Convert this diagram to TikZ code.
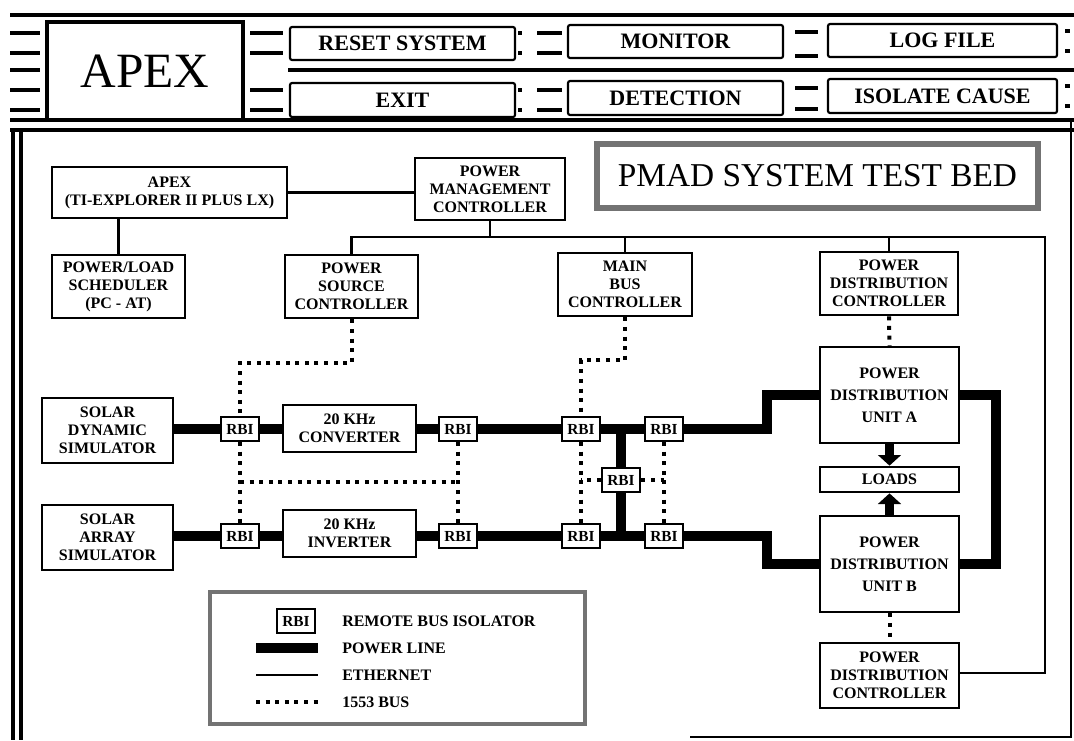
\documentclass[tikz,border=0pt]{standalone}
\usepackage{fontspec}
\setmainfont{Liberation Serif}
\usetikzlibrary{fit,arrows.meta,calc}
\begin{document}
\begin{tikzpicture}[x=0.75pt,y=-0.75pt,
  box/.style={draw, line width=2pt, fill=white, inner sep=0pt},
  bt/.style={align=center, inner sep=0pt, font=\bfseries\fontsize{12}{13.5}\selectfont},
  bbt/.style={align=center, inner sep=0pt, font=\bfseries\fontsize{12}{16.5}\selectfont},
  rbi/.style={draw, line width=1.6pt, fill=white, inner sep=0pt,
    minimum width=29pt, minimum height=18pt, font=\bfseries\fontsize{11.5}{12}\selectfont},
  btn/.style={draw, line width=1.6pt, rounded corners=1.5pt, inner sep=0pt},
  btt/.style={inner sep=0pt, font=\bfseries\fontsize{16.5}{18}\selectfont},
  pline/.style={line width=7.5pt, line join=miter},
  eth/.style={line width=2pt},
  bus/.style={line width=3pt, dash pattern=on 3pt off 4.2pt},
  frameline/.style={line width=3pt},
  bar/.style={line width=3pt},
  legtext/.style={anchor=west, inner sep=0pt, font=\bfseries\fontsize{12}{13.5}\selectfont},
  tip/.style={-{Triangle[width=17pt,length=8pt]}, line width=7pt}
]
\fill[white] (0,0) rectangle (1074,740);
\useasboundingbox (0,0) rectangle (1074,740);

% ---------------- header ----------------
\draw[frameline] (10,15) -- (1074,15);
\draw[frameline] (288,70) -- (1074,70);
\draw[frameline] (10,120) -- (1074,120);
\foreach \y in {33,53,70,90,110} \draw[bar] (10,\y) -- (40,\y);
\foreach \y in {33,53,90,110} \draw[bar] (250,\y) -- (283,\y);
\foreach \y in {33,53,90,110} {\draw[bar] (537,\y) -- (562,\y); \draw[bar] (518,\y) -- (522,\y);}
\foreach \y in {32,56,88,109} \draw[bar] (795,\y) -- (818,\y);
\foreach \y in {31,51,86,106} \draw[bar] (1065,\y) -- (1070,\y);

\node[draw, line width=3pt, fill=white, fit={(47,22) (243,120)}, inner sep=0pt,
  label={[inner sep=0pt, font=\fontsize{37}{40}\selectfont]center:APEX}] (apexlogo) {};

\node[btn, fit={(290,27) (515,60)}, label={[btt]center:RESET SYSTEM}] (reset) {};
\node[btn, fit={(568,25) (783,58)}, label={[btt]center:MONITOR}] (monitor) {};
\node[btn, fit={(828,24) (1057,57)}, label={[btt]center:LOG FILE}] (logfile) {};
\node[btn, fit={(290,83) (515,117)}, label={[btt]center:EXIT}] (exit) {};
\node[btn, fit={(568,81) (783,115)}, label={[btt]center:DETECTION}] (detect) {};
\node[btn, fit={(828,79) (1057,113)}, label={[btt]center:ISOLATE CAUSE}] (isolate) {};

% ---------------- panel frame ----------------
\draw[frameline] (10,130) -- (1074,130);
\draw[line width=3.5pt] (13,130) -- (13,740);
\draw[line width=3.5pt] (21,130) -- (21,740);
\draw[line width=1.3pt] (1071,120) -- (1071,737) -- (690,737);

\node[draw=black!55, line width=4pt, fit={(597,144) (1038,208)}, inner sep=0pt,
  label={[inner sep=0pt, font=\fontsize{25}{28}\selectfont]center:PMAD SYSTEM TEST BED}] (pmad) {};

% ---------------- nodes ----------------
\node[box, fit={(52,167) (287,218)}, label={[bt]center:{APEX\\(TI-EXPLORER II PLUS LX)}}] (apexti) {};
\node[box, fit={(415,158) (565,220)}, label={[bt]center:{POWER\\MANAGEMENT\\CONTROLLER}}] (pmc) {};
\node[box, fit={(52,255) (185,318)}, label={[bt]center:{POWER/LOAD\\SCHEDULER\\(PC - AT)}}] (pls) {};
\node[box, fit={(285,255) (418,318)}, label={[bt]center:{POWER\\SOURCE\\CONTROLLER}}] (psc) {};
\node[box, fit={(558,253) (692,316)}, label={[bt]center:{MAIN\\BUS\\CONTROLLER}}] (mbc) {};
\node[box, fit={(820,252) (958,315)}, label={[bt]center:{POWER\\DISTRIBUTION\\CONTROLLER}}] (pdc1) {};

\node[box, fit={(42,398) (173,463)}, label={[bt]center:{SOLAR\\DYNAMIC\\SIMULATOR}}] (sds) {};
\node[box, fit={(283,405) (416,452)}, label={[bt]center:{20 KHz\\CONVERTER}}] (conv) {};
\node[box, fit={(42,505) (173,570)}, label={[bt]center:{SOLAR\\ARRAY\\SIMULATOR}}] (sas) {};
\node[box, fit={(283,510) (416,557)}, label={[bt]center:{20 KHz\\INVERTER}}] (inv) {};

\node[rbi] (r1) at (240,429) {RBI};
\node[rbi] (r2) at (458,429) {RBI};
\node[rbi] (r5) at (581,429) {RBI};
\node[rbi] (r6) at (664,429) {RBI};
\node[rbi] (r3) at (240,536) {RBI};
\node[rbi] (r4) at (458,536) {RBI};
\node[rbi] (r8) at (581,536) {RBI};
\node[rbi] (r9) at (664,536) {RBI};
\node[rbi] (r7) at (621,480) {RBI};

\node[box, fit={(820,347) (959,443)}, label={[bbt]center:{POWER\\DISTRIBUTION\\UNIT A}}] (pdua) {};
\node[box, fit={(820,467) (959,492)}, label={[bt]center:LOADS}] (loads) {};
\node[box, fit={(820,516) (959,612)}, label={[bbt]center:{POWER\\DISTRIBUTION\\UNIT B}}] (pdub) {};
\node[box, fit={(820,643) (959,708)}, label={[bt]center:{POWER\\DISTRIBUTION\\CONTROLLER}}] (pdc2) {};

% ---------------- ethernet ----------------
\coordinate (ebus) at (0,237);
\coordinate (ecorner1) at (1045,237);
\coordinate (ecorner2) at (1045,673);
\draw[eth] (apexti.east) -- (apexti.east -| pmc.west);
\draw[eth] (apexti.south -| pls.north) -- (pls.north);
\draw[eth] (pmc.south) -- (pmc.south |- ebus);
\draw[eth] (psc.north) |- (ecorner1) -- (ecorner2) -- (ecorner2 -| pdc2.east);
\draw[eth] (mbc.north) -- (mbc.north |- ebus);
\draw[eth] (pdc1.north) -- (pdc1.north |- ebus);

% ---------------- 1553 bus ----------------
\coordinate (b1) at (0,363);
\coordinate (b2) at (0,482);
\coordinate (b3) at (0,360);
\draw[bus] (psc.south) -- (psc.south |- b1) -| (r1.north);
\draw[bus] (r1.south) -- (r3.north);
\draw[bus] (r2.south) -- (r4.north);
\draw[bus] (r1.south |- b2) -- (r2.south |- b2);
\draw[bus] (mbc.south) -- (mbc.south |- b3) -| (r5.north);
\draw[bus] (r5.south) -- (r8.north);
\draw[bus] (r6.south) -- (r9.north);
\draw[bus] (r7.west) -- (r7.west -| r5.south);
\draw[bus] (r7.east) -- (r7.east -| r6.south);
\draw[bus] (pdc1.south) -- (pdua.north);
\draw[bus] (pdub.south) -- (pdc2.north);

% ---------------- power lines ----------------
\coordinate (pa) at (767,395);
\coordinate (pb) at (767,564);
\coordinate (pr) at (996,0);
\draw[pline] (sds.east |- r1.west) -- (r1.west);
\draw[pline] (r1.east) -- (r1.east -| conv.west);
\draw[pline] (r2.west -| conv.east) -- (r2.west);
\draw[pline] (r2.east) -- (r5.west);
\draw[pline] (r5.east) -- (r6.west);
\draw[pline] (r6.east) -| (pa) -- (pa -| pdua.west);
\draw[pline] (sas.east |- r3.west) -- (r3.west);
\draw[pline] (r3.east) -- (r3.east -| inv.west);
\draw[pline] (r4.west -| inv.east) -- (r4.west);
\draw[pline] (r4.east) -- (r8.west);
\draw[pline] (r8.east) -- (r9.west);
\draw[pline] (r9.east) -| (pb) -- (pb -| pdub.west);
\draw[pline] (r7.north) -- (r7.north |- r5.east);
\draw[pline] (r7.south) -- (r7.south |- r8.east);
\draw[pline] (pdua.east) -| (pr |- pdub.east) -- (pdub.east);
\draw[tip] (pdua.south) -- (loads.north);
\draw[tip] (pdub.north) -- (loads.south);

% ---------------- legend ----------------
\node[draw=black!55, line width=3.5pt, fit={(210,592) (585,724)}, inner sep=0pt] (legend) {};
\node[rbi] (lrbi) at (296,621) {RBI};
\node[legtext] (lt1) at (342,621) {REMOTE BUS ISOLATOR};
\coordinate (lp1) at (256,648); \coordinate (lp2) at (318,648);
\draw[pline] (lp1) -- (lp2);
\node[legtext] (lt2) at (342,648) {POWER LINE};
\coordinate (le1) at (256,675); \coordinate (le2) at (318,675);
\draw[eth] (le1) -- (le2);
\node[legtext] (lt3) at (342,675) {ETHERNET};
\coordinate (lb1) at (256,702); \coordinate (lb2) at (320,702);
\draw[bus] (lb1) -- (lb2);
\node[legtext] (lt4) at (342,702) {1553 BUS};
\end{tikzpicture}
\end{document}
